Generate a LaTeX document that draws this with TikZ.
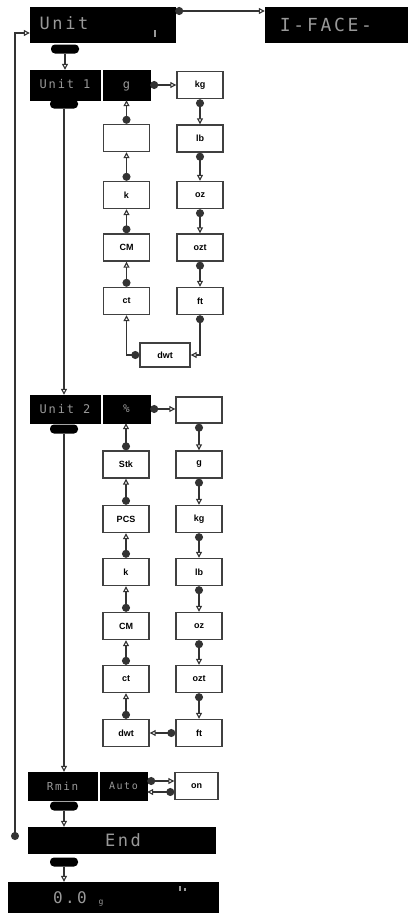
\documentclass[tikz,border=0pt]{standalone}
\usepackage{fontspec}
\setmainfont{Liberation Sans}
\newfontfamily\dispfont[LetterSpace=15]{DejaVu Sans Mono}
\usetikzlibrary{arrows.meta,calc}
\begin{document}
\begin{tikzpicture}[x=1pt,y=-1pt,
 disp/.style={fill=black,draw=black,inner sep=0pt},
 dtext/.style={text=black!40,inner sep=0pt,font=\dispfont\fontsize{#1}{#1}\selectfont},
 dtext/.default=12,
 ubox/.style={draw=black!75,line width=1.4pt,fill=white,minimum width=46pt,minimum height=27pt,inner sep=0pt,font=\bfseries\fontsize{9}{9}\selectfont},
 pill/.style={fill=black,rounded corners=4pt,minimum width=28pt,minimum height=9pt,inner sep=0pt},
 conn/.style={line width=1.1pt,draw=black!80,{Circle[length=8pt,width=8pt]}-{Triangle[open,length=6pt,width=6pt,fill=white]}},
 downarr/.style={line width=1.1pt,draw=black!80,-{Triangle[open,length=6pt,width=6pt,fill=white]}}
]
\useasboundingbox (0,0) rectangle (407,913);

% ---- top row
\node[disp,minimum width=145pt,minimum height=35pt] (unit) at (102.5,24.5) {};
\node[dtext=17] (unitT) at (64,23) {Unit};
\fill[black!40] (154,30) rectangle (156,37);
\node[disp,minimum width=142pt,minimum height=35pt] (iface) at (336,25) {};
\node[dtext=18] (ifaceT) at (326,25) {I-FACE-};
\coordinate (topy) at (0,11);
\draw[conn] (unit.east |- topy) -- (iface.west |- topy);
\node[pill] (p0) at (65,49) {};

% ---- Unit 1
\node[disp,minimum width=70pt,minimum height=30pt] (u1) at (65,85) {};
\node[dtext=12] (u1T) at (65,84) {Unit 1};
\node[disp,minimum width=47pt,minimum height=30pt] (g1) at (126.5,85) {};
\node[dtext=12] (g1T) at (126.5,86) {g};
\draw[downarr] (p0.south) -- (p0.south |- u1.north);

\node[ubox] (kg1) at (200,85) {kg};
\node[ubox] (blank1) at (126.5,138) {};
\node[ubox] (k1) at (126.5,195) {k};
\node[ubox] (cm1) at (126.5,247.5) {CM};
\node[ubox] (ct1) at (126.5,301) {ct};
\node[ubox] (lb1) at (200,138.5) {lb};
\node[ubox] (oz1) at (200,195) {oz};
\node[ubox] (ozt1) at (200,247.5) {ozt};
\node[ubox] (ft1) at (200,301) {ft};
\node[ubox,minimum width=50pt,minimum height=24pt] (dwt1) at (165,355) {dwt};

\draw[conn] (g1) -- (kg1);
\draw[conn] (blank1) -- (g1);
\draw[conn] (k1) -- (blank1);
\draw[conn] (cm1) -- (k1);
\draw[conn] (ct1) -- (cm1);
\draw[conn] (kg1) -- (lb1);
\draw[conn] (lb1) -- (oz1);
\draw[conn] (oz1) -- (ozt1);
\draw[conn] (ozt1) -- (ft1);
\draw[conn] (ft1.south) |- (dwt1.east);
\draw[conn] (dwt1.west) -| (ct1.south);

\node[pill] (p1) at (64,104) {};

% ---- Unit 2
\node[disp,minimum width=70pt,minimum height=28pt] (u2) at (65,409) {};
\node[dtext=12] (u2T) at (65,409) {Unit 2};
\node[disp,minimum width=47pt,minimum height=28pt] (pct2) at (126.5,409) {};
\node[dtext=11] (pct2T) at (126.5,409) {\%};
\draw[downarr] (p1.south) -- (p1.south |- u2.north);

\node[ubox,minimum height=26pt] (blank2) at (199,410) {};
\node[ubox] (stk2) at (126,464.5) {Stk};
\node[ubox] (pcs2) at (126,519) {PCS};
\node[ubox] (k2) at (126,572) {k};
\node[ubox] (cm2) at (126,626) {CM};
\node[ubox] (ct2) at (126,679) {ct};
\node[ubox] (dwt2) at (126,733) {dwt};
\node[ubox] (g2) at (199,464.5) {g};
\node[ubox] (kg2) at (199,519) {kg};
\node[ubox] (lb2) at (199,572) {lb};
\node[ubox] (oz2) at (199,626) {oz};
\node[ubox] (ozt2) at (199,679) {ozt};
\node[ubox] (ft2) at (199,733) {ft};

\draw[conn] (pct2) -- (blank2.west |- pct2);
\draw[conn] (stk2) -- (stk2.north |- pct2.south);
\draw[conn] (pcs2) -- (stk2);
\draw[conn] (k2) -- (pcs2);
\draw[conn] (cm2) -- (k2);
\draw[conn] (ct2) -- (cm2);
\draw[conn] (dwt2) -- (ct2);
\draw[conn] (ft2) -- (dwt2);
\draw[conn] (ozt2) -- (ft2);
\draw[conn] (oz2) -- (ozt2);
\draw[conn] (lb2) -- (oz2);
\draw[conn] (kg2) -- (lb2);
\draw[conn] (g2) -- (kg2);
\draw[conn] (blank2) -- (g2);

\node[pill] (p2) at (64,429) {};

% ---- Rmin / Auto
\node[disp,minimum width=69pt,minimum height=28pt] (rmin) at (62.5,786) {};
\node[dtext=11] (rminT) at (62.5,786) {Rmin};
\node[disp,minimum width=47pt,minimum height=28pt] (auto) at (123.5,786) {};
\node[dtext=10] (autoT) at (123.5,786) {Auto};
\node[ubox,minimum width=43pt] (on) at (196.5,786) {on};
\draw[downarr] (p2.south) -- (p2.south |- rmin.north);
\draw[conn] ($(auto.east)+(0,-5)$) -- ($(on.west)+(0,-5)$);
\draw[conn] ($(on.west)+(0,6)$) -- ($(auto.east)+(0,6)$);

\node[pill] (p3) at (64,806) {};

% ---- End
\node[disp,minimum width=187pt,minimum height=26pt] (endb) at (121.5,840) {};
\node[dtext=17] (endT) at (123,840) {End};
\draw[downarr] (p3.south) -- (p3.south |- endb.north);
\coordinate (loop) at (15,840);
\draw[conn] (loop) |- ($(unit.west)+(0,8.5)$);

\node[pill] (p4) at (64,862) {};

% ---- final display
\node[disp,minimum width=210pt,minimum height=32pt] (final) at (113,898) {};
\node[dtext=16] (finalT) at (70,898) {0.0};
\node[dtext=8] (finalG) at (101,903) {g};
\fill[black!40] (179,886) rectangle (180.5,891);
\fill[black!40] (184,888) rectangle (185.5,891);
\draw[downarr] (p4.south) -- (p4.south |- final.north);
\end{tikzpicture}
\end{document}
